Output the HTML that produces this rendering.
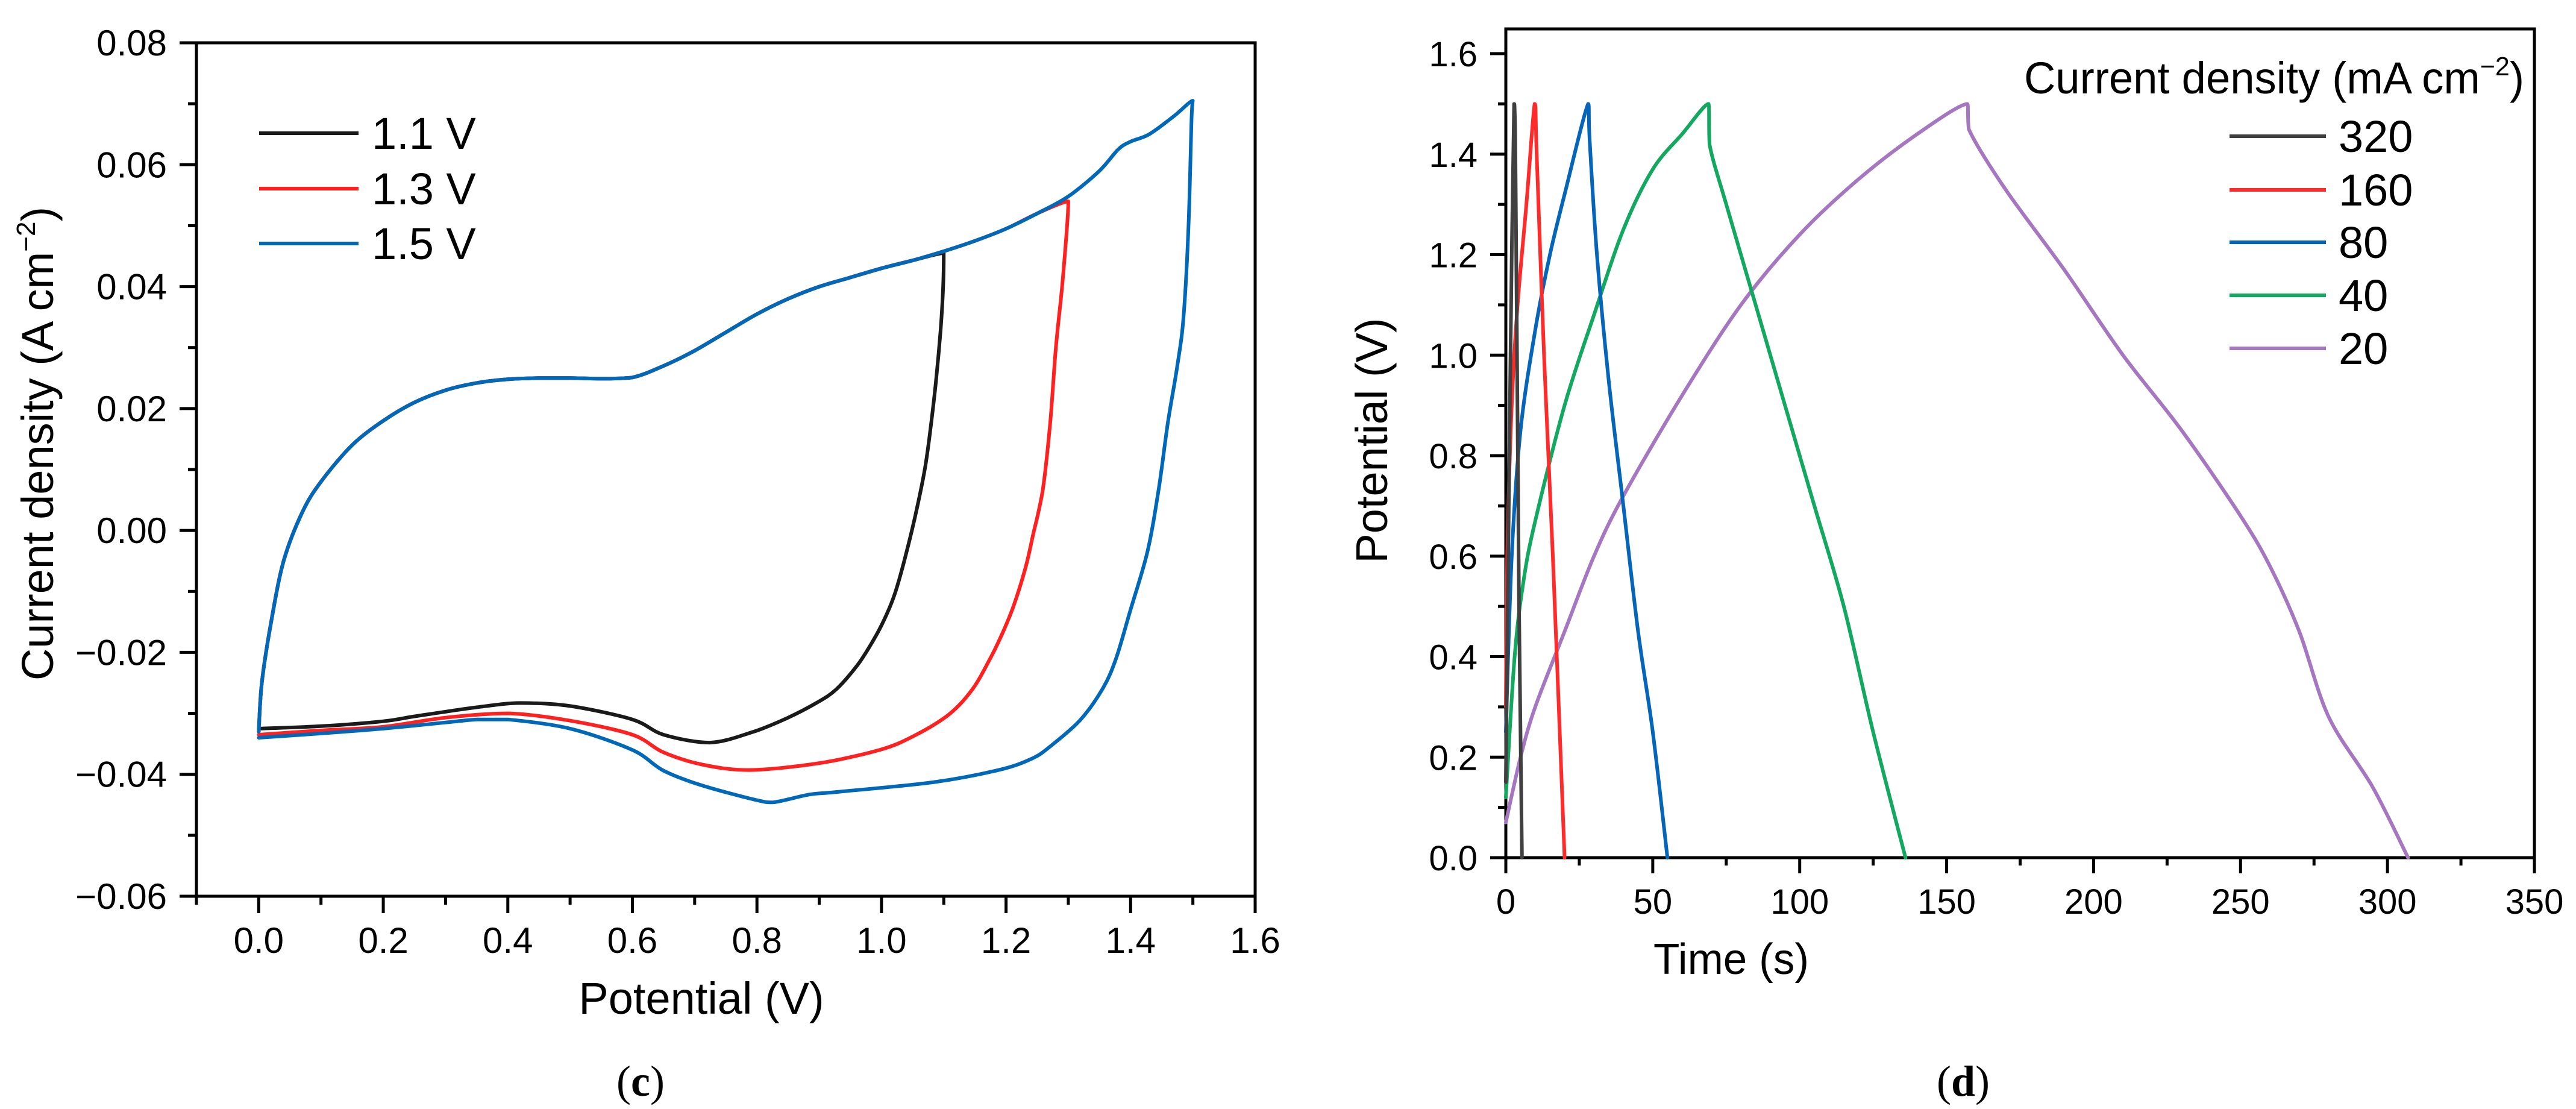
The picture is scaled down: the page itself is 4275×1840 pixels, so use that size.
<!DOCTYPE html>
<html><head><meta charset="utf-8"><style>
html,body{margin:0;padding:0;background:#fff;}
svg{display:block;font-family:"Liberation Sans",sans-serif;}
</style></head><body>
<svg id="fig" width="4275" height="1840" viewBox="0 0 4275 1840" xmlns="http://www.w3.org/2000/svg">
<rect width="4275" height="1840" fill="#fff"/>
<g id="cv"></g>
<g id="gcd"></g>
<text x="1063" y="1818" font-family="Liberation Serif,serif" font-size="72" text-anchor="middle">(<tspan font-weight="bold">c</tspan>)</text>
<text x="3258" y="1818" font-family="Liberation Serif,serif" font-size="72" text-anchor="middle">(<tspan font-weight="bold">d</tspan>)</text>
</svg>
<script>
// ---- CV data ----
const cvXTicks = [0.0,0.2,0.4,0.6,0.8,1.0,1.2,1.4,1.6];
const cvXTickLabels = ["0.0","0.2","0.4","0.6","0.8","1.0","1.2","1.4","1.6"];
const cvYTicks = [-0.06,-0.04,-0.02,0.00,0.02,0.04,0.06,0.08];
const cvYTickLabels = ["\u22120.06","\u22120.04","\u22120.02","0.00","0.02","0.04","0.06","0.08"];
const cvUpperV = [0,0.005,0.02,0.04,0.07,0.1,0.15,0.2,0.25,0.3,0.35,0.4,0.45,0.5,0.55,0.6,0.65,0.7,0.75,0.8,0.85,0.9,0.95,1.0,1.05,1.1,1.15,1.2,1.25,1.3,1.35,1.38,1.4,1.43,1.47,1.5];
const cvUpperJ = [-0.033,-0.025,-0.015,-0.005,0.003,0.008,0.014,0.018,0.021,0.023,0.0242,0.0248,0.025,0.025,0.0249,0.0251,0.027,0.0295,0.0325,0.0355,0.038,0.040,0.0415,0.043,0.0443,0.0458,0.0475,0.0495,0.052,0.0548,0.059,0.0625,0.0638,0.065,0.068,0.0705];
const cvLower11V = [1.1,1.099,1.095,1.088,1.08,1.07,1.054,1.036,1.021,1.005,0.987,0.962,0.928,0.897,0.848,0.792,0.724,0.65,0.6,0.5,0.42,0.35,0.25,0.2,0.1,0];
const cvLower11J = [0.0455,0.04,0.033,0.025,0.0178,0.0103,0.0023,-0.0052,-0.0105,-0.0145,-0.018,-0.022,-0.026,-0.0282,-0.0308,-0.0331,-0.0348,-0.0335,-0.031,-0.0288,-0.0283,-0.029,-0.0305,-0.0313,-0.0321,-0.0325];
const cvLower13V = [1.3,1.298,1.29,1.28,1.271,1.259,1.243,1.231,1.212,1.194,1.172,1.145,1.108,1.052,0.997,0.898,0.787,0.712,0.65,0.6,0.5,0.4,0.3,0.2,0.1,0];
const cvLower13J = [0.054,0.05,0.04,0.03,0.0178,0.0067,-0.0009,-0.0062,-0.0124,-0.0169,-0.0215,-0.0262,-0.0302,-0.0337,-0.036,-0.0382,-0.0393,-0.0384,-0.0364,-0.0335,-0.0312,-0.030,-0.0307,-0.0322,-0.0328,-0.0335];
const cvLower15V = [1.5,1.498,1.493,1.485,1.475,1.46,1.445,1.427,1.399,1.377,1.356,1.319,1.27,1.24,1.188,1.083,0.928,0.885,0.826,0.798,0.711,0.65,0.6,0.5,0.4,0.35,0.3,0.2,0.1,0];
const cvLower15J = [0.0705,0.068,0.05,0.035,0.027,0.0178,0.0067,-0.0035,-0.0133,-0.0209,-0.0258,-0.0311,-0.0355,-0.0375,-0.0393,-0.0413,-0.0429,-0.0433,-0.0446,-0.0442,-0.0418,-0.0394,-0.036,-0.0325,-0.031,-0.031,-0.0315,-0.0325,-0.0333,-0.034];
const cvSeriesNames = ["1.1 V","1.3 V","1.5 V"];
// ---- GCD data ----
const gcdXTicks = [0,50,100,150,200,250,300,350];
const gcdXTickLabels = ["0","50","100","150","200","250","300","350"];
const gcdYTicks = [0.0,0.2,0.4,0.6,0.8,1.0,1.2,1.4,1.6];
const gcdYTickLabels = ["0.0","0.2","0.4","0.6","0.8","1.0","1.2","1.4","1.6"];
const gcdNames = ["320","160","80","40","20"];
const gcd320T = [0,1,2,2.8,3.2,4.5,5.5];
const gcd320V = [0.15,0.7,1.2,1.5,1.45,0.5,0];
const gcd160T = [0,0.5,2,4,7,9.8,10.5,13,16,20];
const gcd160V = [0.3,0.6,0.9,1.1,1.3,1.5,1.4,1.0,0.6,0];
const gcd80T = [0,2,5,10,15,20,28,28.5,31,35,40,45,50,55];
const gcd80V = [0.25,0.6,0.85,1.05,1.2,1.32,1.5,1.43,1.2,0.95,0.7,0.45,0.25,0];
const gcd40T = [0,3,6,10,20,30,40,50,60,69,69.3,75,85,95,105,115,125,136];
const gcd40V = [0.12,0.4,0.55,0.67,0.9,1.08,1.25,1.37,1.44,1.5,1.42,1.3,1.1,0.9,0.7,0.5,0.25,0];
const gcd20T = [0,5,10,20,30,40,60,80,100,120,140,157,157.5,170,190,210,230,250,260,270,280,295,307];
const gcd20V = [0.07,0.2,0.3,0.45,0.6,0.72,0.92,1.1,1.24,1.35,1.44,1.5,1.45,1.33,1.17,1.0,0.85,0.68,0.58,0.45,0.28,0.14,0];

const NS="http://www.w3.org/2000/svg";
function mk(parent,tag,attrs,text){const e=document.createElementNS(NS,tag);for(const k in attrs)e.setAttribute(k,attrs[k]);if(text!==undefined)e.textContent=text;parent.appendChild(e);return e;}
function clamp(v,a,b){const lo=Math.min(a,b),hi=Math.max(a,b);return Math.max(lo,Math.min(hi,v));}
function pathFrom(xs,ys,sx,sy){
  const p=xs.map((x,i)=>[sx(x),sy(ys[i])]);
  let d="M"+p[0][0].toFixed(1)+","+p[0][1].toFixed(1);
  for(let i=0;i<p.length-1;i++){
    const p0=p[Math.max(i-1,0)],p1=p[i],p2=p[i+1],p3=p[Math.min(i+2,p.length-1)];
    const t=0.16;
    const c1=[clamp(p1[0]+(p2[0]-p0[0])*t,p1[0],p2[0]),clamp(p1[1]+(p2[1]-p0[1])*t,p1[1],p2[1])];
    const c2=[clamp(p2[0]-(p3[0]-p1[0])*t,p1[0],p2[0]),clamp(p2[1]-(p3[1]-p1[1])*t,p1[1],p2[1])];
    d+="C"+c1[0].toFixed(1)+","+c1[1].toFixed(1)+" "+c2[0].toFixed(1)+","+c2[1].toFixed(1)+" "+p2[0].toFixed(1)+","+p2[1].toFixed(1);
  }
  return d;
}

// ===== CV chart =====
const cv=document.getElementById('cv');
const cx0=326,cx1=2083,cy0=71,cy1=1487;
const cvx=v=>cx0+(v+0.1)/1.7*(cx1-cx0);
const cvy=j=>cy1-(j+0.06)/0.14*(cy1-cy0);
let e;
e=mk(cv,'rect',{x:cx0,y:cy0,width:cx1-cx0,height:cy1-cy0,fill:'none',stroke:'#000','stroke-width':5});


for(let i=0;i<cvXTicks.length;i++){
  const x=cvx(cvXTicks[i]);
  e=mk(cv,'line',{x1:x,y1:cy1,x2:x,y2:cy1+28,stroke:'#000','stroke-width':5});
  
  
  e=mk(cv,'text',{x:x,y:1581,'font-size':60,'text-anchor':'middle'},cvXTickLabels[i]);
  
  
  const xm=cvx(cvXTicks[i]-0.1);
  e=mk(cv,'line',{x1:xm,y1:cy1,x2:xm,y2:cy1+14,stroke:'#000','stroke-width':5});
  
  
}
for(let i=0;i<cvYTicks.length;i++){
  const y=cvy(cvYTicks[i]);
  e=mk(cv,'line',{x1:cx0-28,y1:y,x2:cx0,y2:y,stroke:'#000','stroke-width':5});
  
  
  e=mk(cv,'text',{x:277,y:y+21,'font-size':60,'text-anchor':'end'},cvYTickLabels[i]);
  
  
  if(i<cvYTicks.length-1){const ym=cvy(cvYTicks[i]+0.01);
  e=mk(cv,'line',{x1:cx0-14,y1:ym,x2:cx0,y2:ym,stroke:'#000','stroke-width':5});
  
  }
}
e=mk(cv,'text',{x:1164,y:1682,'font-size':74,'text-anchor':'middle'},'Potential (V)');


e=mk(cv,'text',{x:0,y:0,'font-size':74,'text-anchor':'middle',transform:'translate(88,736) rotate(-90)'});


e.innerHTML='Current density (A cm<tspan font-size="44" dy="-30">\u22122</tspan><tspan dy="30">)</tspan>';
const cvColors=['#1a1a1a','#ff2020','#0068b8'];
const cvLowV=[cvLower11V,cvLower13V,cvLower15V], cvLowJ=[cvLower11J,cvLower13J,cvLower15J], cvMax=[1.1,1.3,1.5];
for(let s=0;s<3;s++){
  const uv=[],uj=[];
  for(let i=0;i<cvUpperV.length;i++){if(cvUpperV[i]<cvMax[s]){uv.push(cvUpperV[i]);uj.push(cvUpperJ[i]);}}
  const d=pathFrom(uv.concat(cvLowV[s]),uj.concat(cvLowJ[s]),cvx,cvy);
  e=mk(cv,'path',{d:d,fill:'none',stroke:cvColors[s],'stroke-width':6,'stroke-linejoin':'round','stroke-linecap':'round'});
  
  
}
const cvLegY=[221,313,404];
for(let s=0;s<3;s++){
  e=mk(cv,'line',{x1:430,y1:cvLegY[s],x2:595,y2:cvLegY[s],stroke:cvColors[s],'stroke-width':6});
  
  
  e=mk(cv,'text',{x:617,y:cvLegY[s]+26,'font-size':74},cvSeriesNames[s]);
  
  
}

// ===== GCD chart =====
const g=document.getElementById('gcd');
const gx0=2499,gx1=4206,gy0=48,gy1=1423;
const gxs=t=>gx0+t/350*(gx1-gx0);
const gys=v=>gy1-v*833.75;
e=mk(g,'rect',{x:gx0,y:gy0,width:gx1-gx0,height:gy1-gy0,fill:'none',stroke:'#000','stroke-width':5});


for(let i=0;i<gcdXTicks.length;i++){
  const x=gxs(gcdXTicks[i]);
  e=mk(g,'line',{x1:x,y1:gy1,x2:x,y2:gy1+26,stroke:'#000','stroke-width':5});
  
  
  e=mk(g,'text',{x:x,y:1516,'font-size':58,'text-anchor':'middle'},gcdXTickLabels[i]);
  
  
  if(i<gcdXTicks.length-1){const xm=gxs(gcdXTicks[i]+25);
  e=mk(g,'line',{x1:xm,y1:gy1,x2:xm,y2:gy1+13,stroke:'#000','stroke-width':5});
  
  }
}
for(let i=0;i<gcdYTicks.length;i++){
  const y=gys(gcdYTicks[i]);
  e=mk(g,'line',{x1:gx0-26,y1:y,x2:gx0,y2:y,stroke:'#000','stroke-width':5});
  
  
  e=mk(g,'text',{x:2452,y:y+21,'font-size':58,'text-anchor':'end'},gcdYTickLabels[i]);
  
  
  if(i<gcdYTicks.length-1){const ym=gys(gcdYTicks[i]+0.1);
  e=mk(g,'line',{x1:gx0-13,y1:ym,x2:gx0,y2:ym,stroke:'#000','stroke-width':5});
  
  }
}
e=mk(g,'text',{x:2873,y:1616,'font-size':72,'text-anchor':'middle',textLength:258,lengthAdjust:'spacingAndGlyphs'},'Time (s)');


e=mk(g,'text',{x:0,y:0,'font-size':74,'text-anchor':'middle',transform:'translate(2302,731) rotate(-90)'},'Potential (V)');


const gT=[gcd320T,gcd160T,gcd80T,gcd40T,gcd20T], gV=[gcd320V,gcd160V,gcd80V,gcd40V,gcd20V];
const gCol=['#404040','#ff2a2a','#0565b8','#13a860','#a577c0'];
for(let s=4;s>=0;s--){
  e=mk(g,'path',{d:pathFrom(gT[s],gV[s],gxs,gys),fill:'none',stroke:gCol[s],'stroke-width':6,'stroke-linejoin':'round','stroke-linecap':'round'});
  
  
}
e=mk(g,'text',{x:3359,y:155,'font-size':74,textLength:830,lengthAdjust:'spacingAndGlyphs'});


e.innerHTML='Current density (mA cm<tspan font-size="44" dy="-30">\u22122</tspan><tspan dy="30">)</tspan>';
const gLegY=[226,315,402,490,578];
for(let s=0;s<5;s++){
  e=mk(g,'line',{x1:3700,y1:gLegY[s],x2:3860,y2:gLegY[s],stroke:gCol[s],'stroke-width':6});
  
  
  e=mk(g,'text',{x:3881,y:gLegY[s]+26,'font-size':74},gcdNames[s]);
  
  
}
</script>
</body></html>
